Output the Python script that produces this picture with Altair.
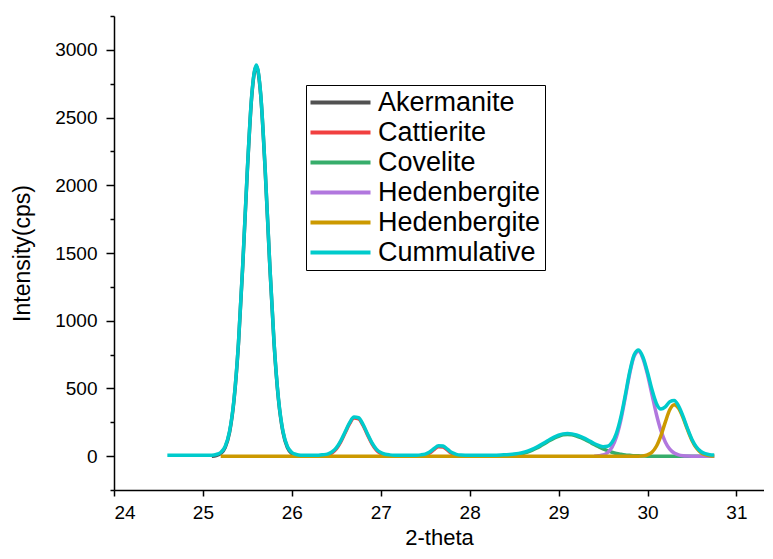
import altair as alt
import pandas as pd

# ---------------- data ----------------
series_names = ["Akermanite", "Cattierite", "Covelite",
                "Hedenbergite (1)", "Hedenbergite (2)", "Cummulative"]
series_colors = ["#515151", "#F14040", "#37AD6B", "#B177DE", "#CC9900", "#00CBCC"]

akermanite_x = [25.10, 25.15, 25.20, 25.25, 25.30, 25.35, 25.40, 25.45, 25.50, 25.55,
                25.60, 25.65, 25.70, 25.75, 25.80, 25.85, 25.90, 25.95, 26.00, 26.05, 26.10]
akermanite_y = [0, 5, 20, 64, 177, 415, 833, 1434, 2112, 2665,
                2880, 2665, 2112, 1434, 833, 415, 177, 64, 20, 5, 0]

cattierite_x = [26.30, 26.35, 26.40, 26.45, 26.50, 26.55, 26.60, 26.65, 26.70, 26.75,
                26.80, 26.85, 26.90, 26.95, 27.00, 27.05, 27.10, 27.15,
                27.40, 27.45, 27.50, 27.55, 27.60, 27.65, 27.70, 27.75, 27.80, 27.85,
                27.90, 27.95]
cattierite_y = [0, 3, 8, 23, 53, 105, 173, 240, 281, 276,
                228, 158, 93, 45, 19, 7, 2, 0,
                0, 2, 8, 23, 49, 70, 67, 44, 19, 6,
                1, 0]

covelite_x = [28.30, 28.35, 28.40, 28.45, 28.50, 28.55, 28.60, 28.65, 28.70, 28.75,
              28.80, 28.85, 28.90, 28.95, 29.00, 29.05, 29.10, 29.15, 29.20, 29.25,
              29.30, 29.35, 29.40, 29.45, 29.50, 29.55, 29.60, 29.65, 29.70, 29.75,
              29.80, 29.85, 29.90, 29.95, 30.00, 30.75]
covelite_y = [0, 1, 3, 5, 8, 13, 20, 30, 42, 58,
              76, 95, 115, 133, 147, 157, 160, 157, 149, 137,
              122, 104, 86, 69, 53, 40, 29, 20, 14, 9,
              6, 3, 2, 1, 0, 0]

hedenbergite1_x = [29.40, 29.45, 29.50, 29.55, 29.60, 29.65, 29.70, 29.75, 29.80, 29.85,
                   29.90, 29.95, 30.00, 30.05, 30.10, 30.15, 30.20, 30.25, 30.30, 30.35,
                   30.40, 30.45, 30.50, 30.75]
hedenbergite1_y = [0, 3, 9, 25, 64, 141, 266, 434, 610, 739,
                   775, 719, 602, 455, 309, 190, 105, 52, 23, 9,
                   3, 1, 0, 0]

hedenbergite2_x = [25.20, 29.90, 29.95, 30.00, 30.05, 30.10, 30.15, 30.20, 30.25, 30.30,
                   30.35, 30.40, 30.45, 30.50, 30.55, 30.60, 30.65, 30.70, 30.75]
hedenbergite2_y = [0, 0, 2, 10, 29, 73, 150, 251, 342, 380,
                   353, 283, 195, 116, 60, 27, 11, 3, 1]

cumulative_ends = [24.60, 30.75]

x_ticks = [24, 24.5, 25, 25.5, 26, 26.5, 27, 27.5, 28, 28.5, 29, 29.5, 30, 30.5, 31]
y_ticks = [-250, 0, 250, 500, 750, 1000, 1250, 1500, 1750, 2000, 2250, 2500, 2750, 3000, 3250]

# ---------------- build long table ----------------
components = [
    (series_names[0], akermanite_x, akermanite_y),
    (series_names[1], cattierite_x, cattierite_y),
    (series_names[2], covelite_x, covelite_y),
    (series_names[3], hedenbergite1_x, hedenbergite1_y),
    (series_names[4], hedenbergite2_x, hedenbergite2_y),
]
rows = []
for name, xs, ys in components:
    for xv, yv in zip(xs, ys):
        rows.append({"x": xv, "y": yv, "series": name})

lookups = [dict(zip([round(v, 2) for v in xs], ys)) for _, xs, ys in components]
grid = sorted({round(v, 2) for _, xs, _ in components for v in xs} | set(cumulative_ends))
for xv in grid:
    rows.append({"x": xv, "y": sum(d.get(xv, 0) for d in lookups), "series": series_names[5]})

df = pd.DataFrame(rows)

# ---------------- chart ----------------
FONT = "Liberation Sans"

x_axis = alt.Axis(
    values=x_ticks, format="d", title="2-theta",
    labelExpr="datum.value % 1 === 0 ? datum.label : ''",
    tickSize={"condition": {"test": "datum.value % 1 === 0", "value": 6}, "value": 3},
    labelPadding=7, titlePadding=5, titleFontSize=22,
)
y_axis = alt.Axis(
    values=y_ticks, format="d", title="Intensity(cps)",
    labelExpr="datum.value % 500 === 0 ? datum.label : ''",
    tickSize={"condition": {"test": "datum.value % 500 === 0", "value": 8}, "value": 4},
    labelPadding=9, titlePadding=20,
)
x_scale = alt.Scale(domain=[24, 31.31], nice=False, zero=False)
y_scale = alt.Scale(domain=[-250, 3250], nice=False, zero=False)
color_scale = alt.Scale(domain=series_names, range=series_colors)
legend = alt.Legend(
    title=None, orient="none", legendX=192, legendY=69,
    strokeColor="black", fillColor="white", padding=4,
    symbolType="M-1.3,0H4.7", symbolSize=400, symbolStrokeWidth=4,
    labelFont=FONT, labelFontSize=27, labelColor="black", labelOffset=41,
    labelLimit=400, rowPadding=2,
    labelExpr="indexof(datum.label, 'Hedenbergite') >= 0 ? 'Hedenbergite' : datum.label",
)

base = alt.Chart(df)
layers = []
for name in series_names:
    kw = dict(interpolate="monotone", strokeWidth=3.5)
    if name == "Cummulative":
        kw["yOffset"] = -1
    layers.append(
        base.transform_filter(alt.datum.series == name)
        .mark_line(**kw)
        .encode(
            x=alt.X("x:Q", scale=x_scale, axis=x_axis),
            y=alt.Y("y:Q", scale=y_scale, axis=y_axis),
            color=alt.Color("series:N", scale=color_scale, legend=legend),
        )
    )

chart = (
    alt.layer(*layers)
    .properties(
        width=650, height=474,
        autosize=alt.AutoSizeParams(type="none"),
        padding={"left": 106, "top": 8, "right": 0, "bottom": 61},
        background="white",
    )
    .configure_axis(
        grid=False, domainColor="black", domainWidth=1.5, tickColor="black", tickWidth=1.5,
        labelFont=FONT, labelFontSize=19, labelColor="black",
        titleFont=FONT, titleFontSize=23, titleFontWeight="normal", titleColor="black",
    )
    .configure_view(strokeWidth=0)
)

chart.save("out.html", embed_options={"renderer": "svg", "actions": False})
